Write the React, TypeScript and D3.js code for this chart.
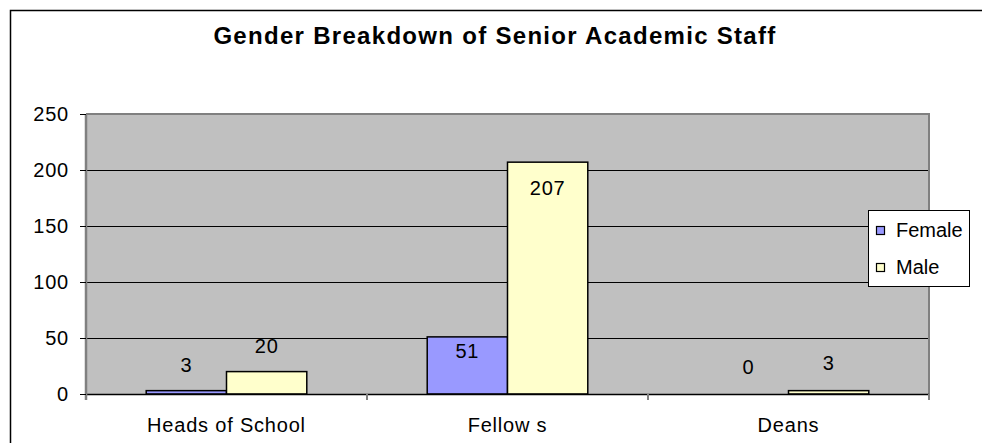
import { useEffect, useRef } from 'react';
import * as d3 from 'd3';

// chart data
const categories = ['Heads of School', 'Fellow s', 'Deans'];
const seriesNames = ['Female', 'Male'];
const femaleValues = [3, 51, 0];
const maleValues = [20, 207, 3];
const yTicks = [0, 50, 100, 150, 200, 250];

// label nudges (px from bar top), as placed in the original
const labelShift = [
  [-26, -26],
  [14, 26],
  [-27, -28],
];

const colors = ['#9999FF', '#FFFFCC'];

const App = () => {
  const svgRef = useRef<SVGSVGElement>(null);

  useEffect(() => {
    const svg = d3.select(svgRef.current);
    svg.selectAll('*').remove();

    const W = 982;
    const H = 443;
    const font = 'Liberation Sans, Arial, sans-serif';
    const plot = { left: 86, right: 929, top: 114, bottom: 394 };

    svg.attr('width', W).attr('height', H);

    // white background + outer chart frame
    svg.append('rect').attr('width', W).attr('height', H).attr('fill', '#fff');
    svg
      .append('rect')
      .attr('x', 10.5)
      .attr('y', 10.5)
      .attr('width', 1000)
      .attr('height', 500)
      .attr('fill', 'none')
      .attr('stroke', '#000')
      .attr('stroke-width', 1.5);

    // title
    svg
      .append('text')
      .attr('x', 495)
      .attr('y', 44)
      .attr('text-anchor', 'middle')
      .style('font-family', font)
      .style('font-size', '24px')
      .style('font-weight', 'bold')
      .style('letter-spacing', '1.3px')
      .text('Gender Breakdown of Senior Academic Staff');

    const x0 = d3
      .scaleBand()
      .domain(categories)
      .range([plot.left, plot.right])
      .paddingInner(0)
      .paddingOuter(0);

    const x1 = d3
      .scaleBand()
      .domain(seriesNames)
      .range([0, x0.bandwidth()])
      .paddingInner(0)
      .paddingOuter(0.75);

    const y = d3.scaleLinear().domain([0, 250]).range([plot.bottom, plot.top]);

    // plot area
    svg
      .append('rect')
      .attr('x', plot.left)
      .attr('y', plot.top)
      .attr('width', plot.right - plot.left)
      .attr('height', plot.bottom - plot.top)
      .attr('fill', '#C0C0C0');

    // gridlines
    svg
      .append('g')
      .selectAll('line')
      .data(yTicks.filter((t) => t > 0 && t < 250))
      .enter()
      .append('line')
      .attr('x1', plot.left)
      .attr('x2', plot.right)
      .attr('y1', (d) => y(d) + 0.5)
      .attr('y2', (d) => y(d) + 0.5)
      .attr('stroke', '#000')
      .attr('stroke-width', 1);

    // plot border (top / right)
    svg
      .append('path')
      .attr('d', `M${plot.left},${plot.top}H${plot.right}V${plot.bottom + 6}`)
      .attr('fill', 'none')
      .attr('stroke', '#808080')
      .attr('stroke-width', 2);

    // bars
    const series = [femaleValues, maleValues];
    const groups = svg
      .append('g')
      .selectAll('g')
      .data(categories)
      .enter()
      .append('g')
      .attr('transform', (d) => `translate(${x0(d)},0)`);

    groups
      .selectAll('rect')
      .data((d, i) => seriesNames.map((s, j) => ({ s, j, v: series[j][i] })))
      .enter()
      .filter((d) => d.v > 0)
      .append('rect')
      .attr('x', (d) => x1(d.s)!)
      .attr('y', (d) => y(d.v))
      .attr('width', x1.bandwidth())
      .attr('height', (d) => y(0) - y(d.v))
      .attr('fill', (d) => colors[d.j])
      .attr('stroke', '#000')
      .attr('stroke-width', 1.5);

    // value labels
    groups
      .selectAll('text')
      .data((d, i) => seriesNames.map((s, j) => ({ s, j, i, v: series[j][i] })))
      .enter()
      .append('text')
      .attr('x', (d) => x1(d.s)! + x1.bandwidth() / 2)
      .attr('y', (d) => y(d.v) + labelShift[d.i][d.j])
      .attr('dy', '0.36em')
      .attr('text-anchor', 'middle')
      .style('font-family', font)
      .style('font-size', '20px')
      .style('letter-spacing', '0.8px')
      .text((d) => d.v);

    // x axis line
    svg
      .append('line')
      .attr('x1', plot.left)
      .attr('x2', plot.right)
      .attr('y1', plot.bottom + 0.5)
      .attr('y2', plot.bottom + 0.5)
      .attr('stroke', '#000')
      .attr('stroke-width', 1.5);

    // category ticks
    const bounds = categories.map((c) => x0(c)!);
    svg
      .append('g')
      .selectAll('line')
      .data(bounds.concat([plot.right]))
      .enter()
      .append('line')
      .attr('x1', (d) => d)
      .attr('x2', (d) => d)
      .attr('y1', plot.bottom)
      .attr('y2', plot.bottom + 6)
      .attr('stroke', '#808080')
      .attr('stroke-width', 2);

    // category labels
    svg
      .append('g')
      .selectAll('text')
      .data(categories)
      .enter()
      .append('text')
      .attr('x', (d) => x0(d)! + x0.bandwidth() / 2)
      .attr('y', 432)
      .attr('text-anchor', 'middle')
      .style('font-family', font)
      .style('font-size', '20px')
      .style('letter-spacing', '0.8px')
      .text((d) => d);

    // y axis
    svg
      .append('line')
      .attr('x1', plot.left)
      .attr('x2', plot.left)
      .attr('y1', plot.top)
      .attr('y2', plot.bottom + 6)
      .attr('stroke', '#808080')
      .attr('stroke-width', 2.5);

    const yAxis = svg.append('g');
    yAxis
      .selectAll('line')
      .data(yTicks)
      .enter()
      .append('line')
      .attr('x1', plot.left - 6)
      .attr('x2', plot.left)
      .attr('y1', (d) => y(d) + 0.5)
      .attr('y2', (d) => y(d) + 0.5)
      .attr('stroke', '#000')
      .attr('stroke-width', 1);
    yAxis
      .selectAll('text')
      .data(yTicks)
      .enter()
      .append('text')
      .attr('x', 69)
      .attr('y', (d) => y(d))
      .attr('dy', '0.36em')
      .attr('text-anchor', 'end')
      .style('font-family', font)
      .style('font-size', '20px')
      .style('letter-spacing', '0.8px')
      .text((d) => d);

    // legend
    const lg = svg.append('g').attr('transform', 'translate(868,210)');
    lg.append('rect')
      .attr('x', 0.5)
      .attr('y', 0.5)
      .attr('width', 101)
      .attr('height', 76)
      .attr('fill', '#fff')
      .attr('stroke', '#000')
      .attr('stroke-width', 1);
    const items = lg
      .selectAll('g')
      .data(seriesNames)
      .enter()
      .append('g')
      .attr('transform', (d, i) => `translate(0,${20 + i * 37})`);
    items
      .append('rect')
      .attr('x', 8.5)
      .attr('y', -3.5)
      .attr('width', 8)
      .attr('height', 8)
      .attr('fill', (d, i) => colors[i])
      .attr('stroke', '#000')
      .attr('stroke-width', 1.2);
    items
      .append('text')
      .attr('x', 28)
      .attr('y', 0)
      .attr('dy', '0.36em')
      .style('font-family', font)
      .style('font-size', '20px')
      .text((d) => d);
  }, []);

  return <svg ref={svgRef} style={{ position: 'absolute', left: 0, top: 0 }}></svg>;
};

export default App;
